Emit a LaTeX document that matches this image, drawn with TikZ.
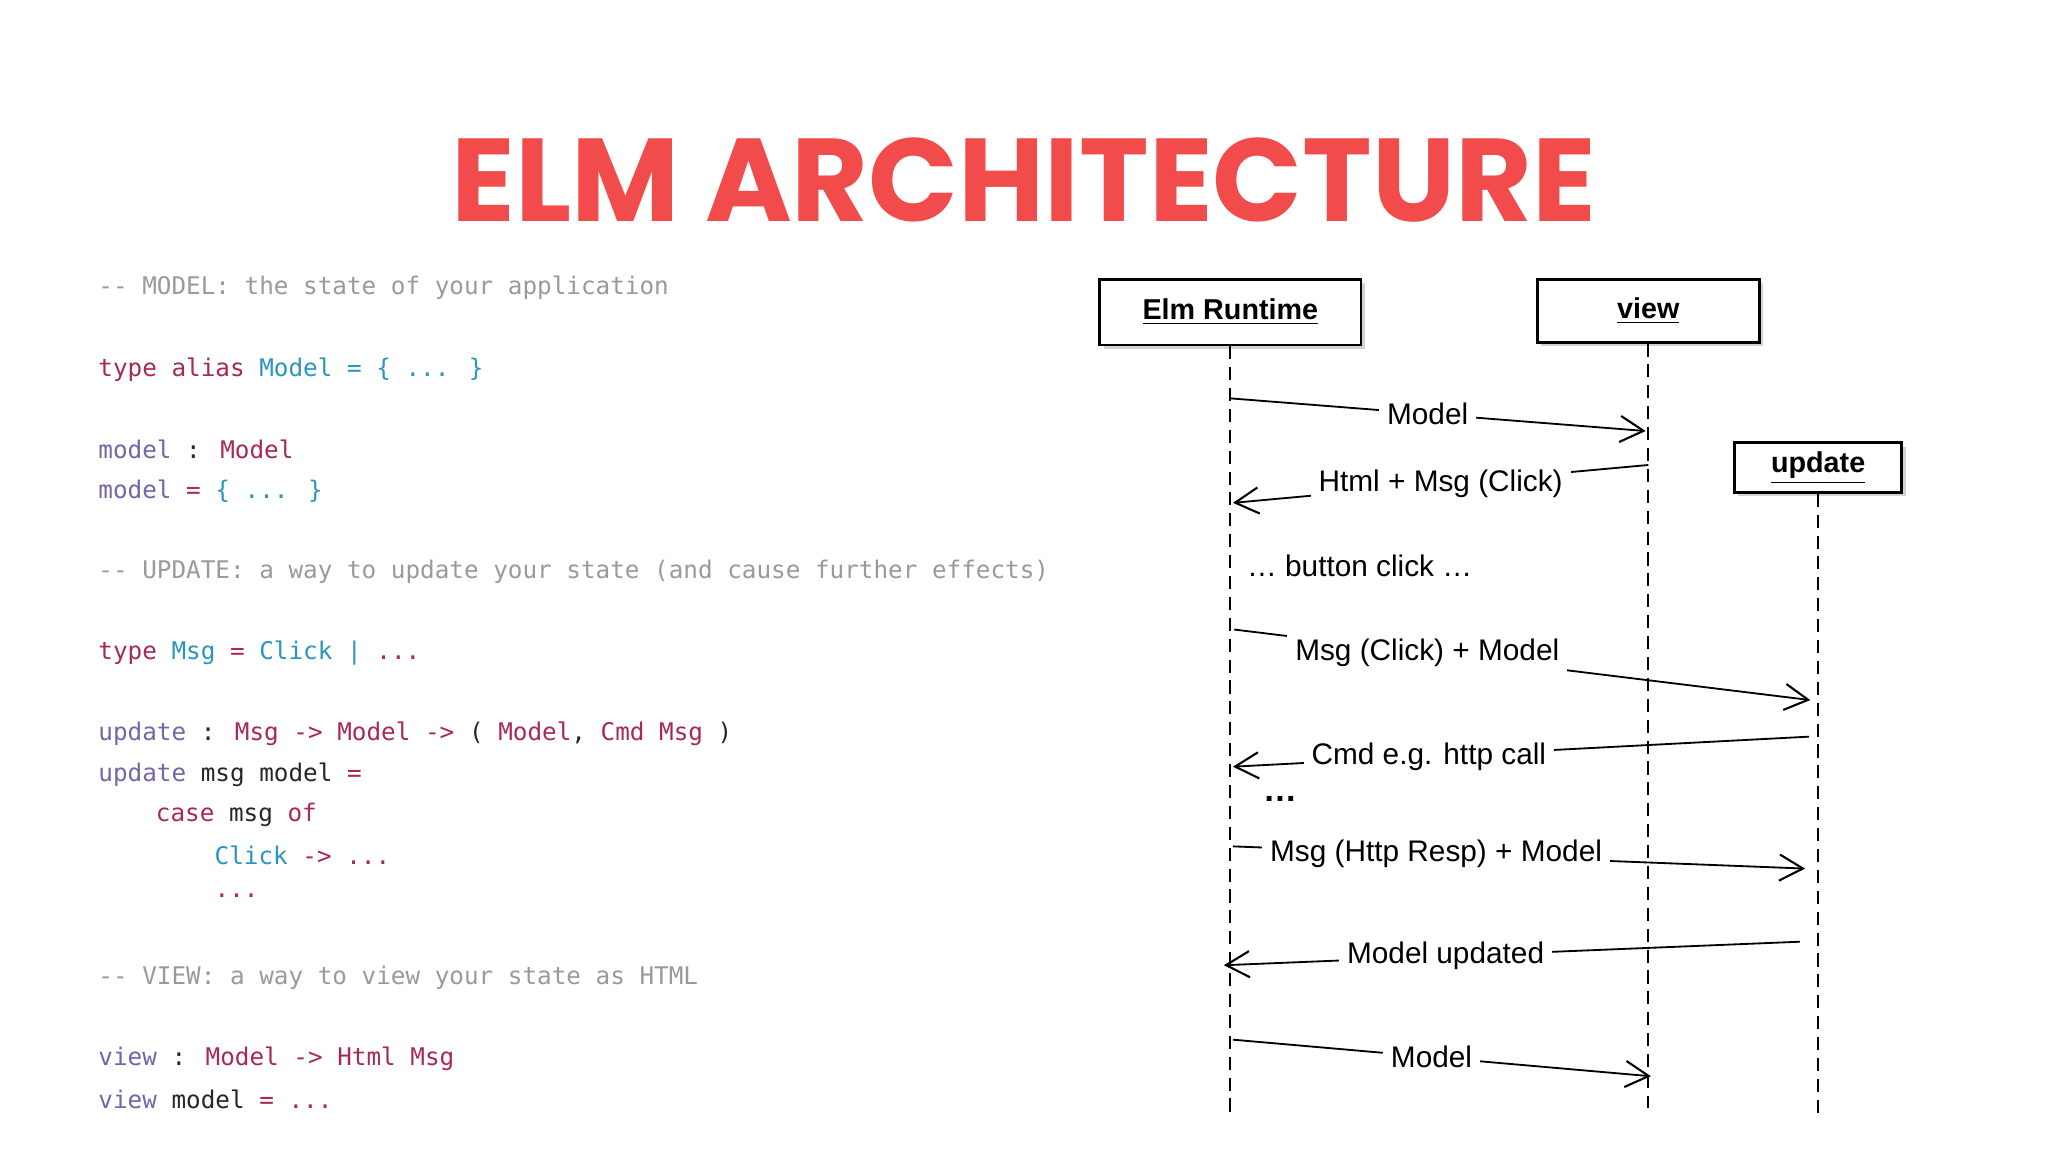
\documentclass[tikz,border=0pt]{standalone}
\usepackage{fontspec}
\setmainfont{Liberation Sans}
\newfontfamily\codefont{DejaVu Sans Mono}
\newfontfamily\titlefont{Poppins Bold}
\usetikzlibrary{arrows.meta,shadows}
\definecolor{cm}{HTML}{9A9A9A}
\definecolor{kw}{HTML}{A8285A}
\definecolor{tl}{HTML}{2A95BD}
\definecolor{fn}{HTML}{7664A8}
\definecolor{ttl}{HTML}{F24B4B}
\newcommand{\K}[1]{\textcolor{kw}{#1}}
\newcommand{\T}[1]{\textcolor{tl}{#1}}
\newcommand{\F}[1]{\textcolor{fn}{#1}}
\newcommand{\C}[1]{\textcolor{cm}{#1}}
\tikzset{
  code/.style={anchor=west,inner sep=0pt,font=\codefont\fontsize{9.3pt}{11pt}\selectfont,text=black!85},
  actor/.style={draw,line width=1pt,fill=white,font=\bfseries\fontsize{11pt}{13pt}\selectfont,
    drop shadow={shadow xshift=1.5pt,shadow yshift=-1.5pt,opacity=0.35}},
  life/.style={dashed,line width=0.8pt,dash pattern=on 5pt off 3pt},
  msg/.style={line width=0.7pt,-{Straight Barb[length=9pt,width=10pt,line width=0.8pt]}},
  lbl/.style={fill=white,inner sep=3pt,font=\fontsize{11.4pt}{13pt}\selectfont},
}
\begin{document}
\begin{tikzpicture}[x=0.5pt,y=-0.5pt]
\useasboundingbox (0,0) rectangle (1568,882);
\fill[white] (0,0) rectangle (1568,882);
\node[inner sep=0pt,text=ttl] (title) at (784,138) {\resizebox{438pt}{!}{\titlefont ELM ARCHITECTURE}};
% code
\node[code] (c1) at (75,220) {\C{-- MODEL: the state of your application}};
\node[code] (c2) at (75,283) {\K{type alias} \T{Model = \{ ... \}}};
\node[code] (c3) at (75,344) {\F{model} : \K{Model}};
\node[code] (c4) at (75,376) {\F{model} \K{=} \T{\{ ... \}}};
\node[code] (c5) at (75,438) {\C{-- UPDATE: a way to update your state (and cause further effects)}};
\node[code] (c6) at (75,500) {\K{type} \T{Msg} \K{=} \T{Click |} \K{...}};
\node[code] (c7) at (75,562) {\F{update} : \K{Msg -> Model ->} ( \K{Model}, \K{Cmd Msg} )};
\node[code] (c8) at (75,593) {\F{update} msg model \K{=}};
\node[code] (c9) at (119,624) {\K{case} msg \K{of}};
\node[code] (c10) at (164,655) {\T{Click} \K{-> ...}};
\node[code] (c11) at (164,686) {\K{...}};
\node[code] (c12) at (75,749) {\C{-- VIEW: a way to view your state as HTML}};
\node[code] (c13) at (75,811) {\F{view} : \K{Model -> Html Msg}};
\node[code] (c14) at (75,842) {\F{view} model \K{= ...}};
% actors
\node[actor,minimum width=100pt,minimum height=25pt] (rt) at (942,239) {\underline{Elm Runtime}};
\node[actor,minimum width=85pt,minimum height=24pt] (vw) at (1262,238) {\underline{view}};
\node[actor,minimum width=64pt,minimum height=19pt] (up) at (1392,358) {\underline{update}};
\coordinate (rtend) at (942,852);
\coordinate (vwend) at (1262,848);
\coordinate (upend) at (1392,856);
\draw[life] (rt.south) -- (rtend);
\draw[life] (vw.south) -- (vwend);
\draw[life] (up.south) -- (upend);
% messages
\coordinate (a1) at (942,305); \coordinate (b1) at (1260,330);
\coordinate (a2) at (1262,356); \coordinate (b2) at (944,385);
\coordinate (a4) at (945,482); \coordinate (b4) at (1386,536);
\coordinate (a5) at (1385,564); \coordinate (b5) at (944,587);
\coordinate (a7) at (944,648); \coordinate (b7) at (1382,665);
\coordinate (a8) at (1378,721); \coordinate (b8) at (937,739);
\coordinate (a9) at (944,796); \coordinate (b9) at (1264,824);
\draw[msg] (a1) -- node[lbl,pos=0.475] (l1) {Model} (b1);
\draw[msg] (a2) -- node[lbl,pos=0.5] (l2) {Html + Msg (Click)} (b2);
\node[lbl,fill=none] (l3) at (1041,433) {… button click …};
\draw[msg] (a4) -- node[lbl,pos=0.335] (l4) {Msg (Click) + Model} (b4);
\draw[msg] (a5) -- node[lbl,pos=0.66] (l5) {Cmd e.g. http call} (b5);
\node[font=\bfseries\fontsize{13pt}{13pt}\selectfont] (l6) at (980,612) {…};
\draw[msg] (a7) -- node[lbl,pos=0.355] (l7) {Msg (Http Resp) + Model} (b7);
\draw[msg] (a8) -- node[lbl,pos=0.615] (l8) {Model updated} (b8);
\draw[msg] (a9) -- node[lbl,pos=0.475] (l9) {Model} (b9);
\end{tikzpicture}
\end{document}
